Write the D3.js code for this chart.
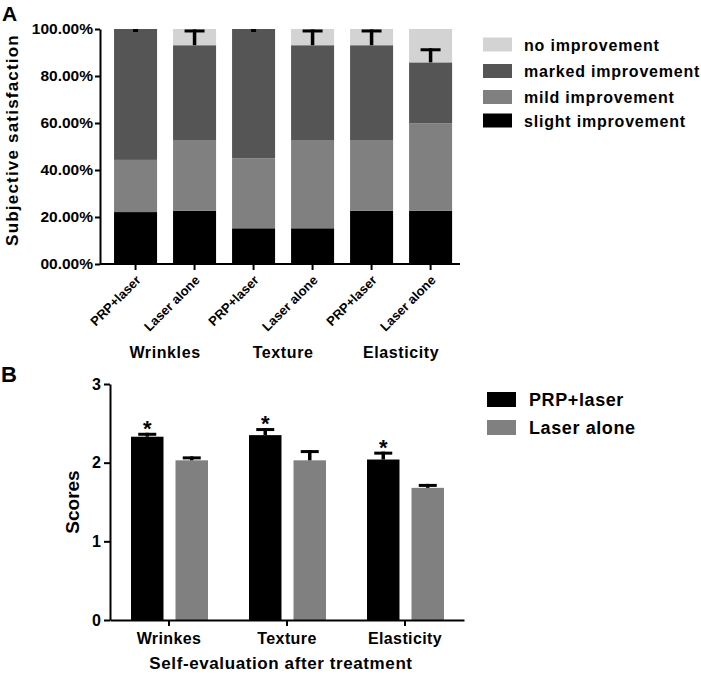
<!DOCTYPE html>
<html><head><meta charset="utf-8">
<script src="https://cdn.jsdelivr.net/npm/d3@7"></script>
<style>
body{margin:0;background:#fff;}
text{font-family:"Liberation Sans",Arial,sans-serif;font-weight:bold;fill:#000;}
</style></head>
<body><svg id="c" width="701" height="678"></svg>
<script>
// ---------- Panel A data ----------
const barsA = ['PRP+laser','Laser alone','PRP+laser','Laser alone','PRP+laser','Laser alone'];
const groupsA = ['Wrinkles','Texture','Elasticity'];
const slight = [22.1, 22.7, 15.2, 15.2, 22.7, 22.7];
const mild   = [22.2, 29.8, 29.8, 37.3, 29.8, 37.2];
const marked = [55.7, 40.6, 55.0, 40.6, 40.6, 25.9];
const noImpr = [0.0, 6.9, 0.0, 6.9, 6.9, 14.2];
const errA   = [0.0, 6.7, 0.0, 6.7, 6.7, 6.0];
const ticksA = [0, 20, 40, 60, 80, 100];
const tickLabelsA = ['00.00%','20.00%','40.00%','60.00%','80.00%','100.00%'];
const seriesKeysA = ['slight','mild','marked','none'];
const legendA = ['no improvement','marked improvement','mild improvement','slight improvement'];
const legendKeysA = ['none','marked','mild','slight'];

// ---------- Panel B data ----------
const groupsB = ['Wrinkes','Texture','Elasticity'];
const seriesB = ['PRP+laser','Laser alone'];
const prpScores = [2.33, 2.35, 2.04];
const prpErr    = [0.05, 0.09, 0.10];
const laserScores = [2.03, 2.03, 1.68];
const laserErr    = [0.05, 0.13, 0.05];
const sigB = [true, true, true];
const ticksB = [0, 1, 2, 3];

const colorA = {slight:'#000000', mild:'#808080', marked:'#555555', none:'#d3d3d3'};
const colorB = {'PRP+laser':'#000000','Laser alone':'#808080'};

const FF = '"Liberation Sans",Arial,sans-serif';
const svg = d3.select('#c');

// ===== Panel A =====
const gA = svg.append('g');
const yA = d3.scaleLinear().domain([0,100]).range([264,29]);
const xA = d3.scaleBand().domain(d3.range(barsA.length)).range([100,460])
  .paddingInner(0.271).paddingOuter(0.186).align(0.64);

const rowsA = barsA.map((b,i)=>({slight:slight[i], mild:mild[i], marked:marked[i], none:noImpr[i]}));
const stackA = d3.stack().keys(seriesKeysA)(rowsA);

gA.selectAll('g.layer').data(stackA).join('g').attr('class','layer')
  .attr('fill', d=>colorA[d.key])
  .selectAll('rect').data(d=>d.map((v,i)=>({v,i}))).join('rect')
  .attr('x', d=>xA(d.i)).attr('width', xA.bandwidth())
  .attr('y', d=>yA(d.v[1])).attr('height', d=>Math.max(0, yA(d.v[0])-yA(d.v[1])));

// error bars A (on top of marked segment)
barsA.forEach((b,i)=>{
  const cx = xA(i)+xA.bandwidth()/2;
  const base = slight[i]+mild[i]+marked[i];
  const top = base+errA[i];
  const cw = errA[i]>0 ? 20 : 5;
  if (errA[i]>0) gA.append('line').attr('x1',cx).attr('x2',cx).attr('y1',yA(base)).attr('y2',yA(top))
    .attr('stroke','#000').attr('stroke-width',3.5);
  gA.append('line').attr('x1',cx-cw/2).attr('x2',cx+cw/2).attr('y1',yA(top)+1.5).attr('y2',yA(top)+1.5)
    .attr('stroke','#000').attr('stroke-width',3);
});

// axes A
const yAxisA = d3.axisLeft(yA).tickValues(ticksA).tickFormat((d,i)=>tickLabelsA[i]).tickSize(5).tickPadding(2).tickSizeOuter(0);
const gyA = gA.append('g').attr('transform','translate(100,0)').call(yAxisA);
gyA.selectAll('text').style('font-size','15.5px').style('font-family',FF).style('font-weight','bold');
gyA.selectAll('path,line').attr('stroke','#000').attr('stroke-width',2);

const xAxisA = d3.axisBottom(xA).tickFormat(i=>barsA[i]).tickSize(6).tickSizeOuter(0);
const gxA = gA.append('g').attr('transform','translate(0,264)').call(xAxisA);
gxA.select('.domain').attr('d','M100,0H460');
gxA.selectAll('path,line').attr('stroke','#000').attr('stroke-width',2);
gxA.selectAll('text').style('font-size','13px').style('font-family',FF).style('font-weight','bold')
  .attr('text-anchor','end').attr('dy',null).attr('y',null)
  .attr('transform','translate(6,17) rotate(-45)');

// group labels A
groupsA.forEach((g,k)=>{
  const cx = (xA(2*k)+xA(2*k+1)+xA.bandwidth())/2;
  gA.append('text').attr('x',cx).attr('y',358).attr('text-anchor','middle')
    .style('font-size','16px').style('letter-spacing','0.6px').text(g);
});

gA.append('text').attr('transform','translate(18,140) rotate(-90)').attr('text-anchor','middle')
  .style('font-size','17px').style('letter-spacing','1.2px').text('Subjective satisfaction');
gA.append('text').attr('x',2).attr('y',21).style('font-size','21px').text('A');

// legend A
const legYA = [44.5, 71, 97, 120.5];
legendA.forEach((t,k)=>{
  gA.append('rect').attr('x',483).attr('y',legYA[k]-7).attr('width',29).attr('height',14).attr('fill',colorA[legendKeysA[k]]);
  gA.append('text').attr('x',524).attr('y',legYA[k]+6).style('font-size','16px').style('letter-spacing','0.8px').text(t);
});

// ===== Panel B =====
const gB = svg.append('g');
const yB = d3.scaleLinear().domain([0,3]).range([620,384]);
const xB = d3.scaleBand().domain(groupsB).range([110,464]).padding(0);
const xInner = d3.scaleBand().domain(seriesB).range([-38,39]).paddingInner(0.27).paddingOuter(0);

const dataB = [];
groupsB.forEach((g,i)=>{
  dataB.push({g, s:'PRP+laser', v:prpScores[i], e:prpErr[i], sig:sigB[i]});
  dataB.push({g, s:'Laser alone', v:laserScores[i], e:laserErr[i], sig:false});
});
const cxB = d=>xB(d.g)+xB.bandwidth()/2+xInner(d.s);
gB.selectAll('rect.bar').data(dataB).join('rect').attr('class','bar')
  .attr('x', cxB).attr('width', xInner.bandwidth())
  .attr('y', d=>yB(d.v)).attr('height', d=>yB(0)-yB(d.v))
  .attr('fill', d=>colorB[d.s]);
dataB.forEach(d=>{
  const cx = cxB(d)+xInner.bandwidth()/2;
  gB.append('line').attr('x1',cx).attr('x2',cx).attr('y1',yB(d.v)).attr('y2',yB(d.v+d.e))
    .attr('stroke','#000').attr('stroke-width',3.5);
  gB.append('line').attr('x1',cx-9).attr('x2',cx+9).attr('y1',yB(d.v+d.e)+1.5).attr('y2',yB(d.v+d.e)+1.5)
    .attr('stroke','#000').attr('stroke-width',3);
  if (d.sig) gB.append('text').attr('x',cx).attr('y',yB(d.v+d.e)+3).attr('text-anchor','middle')
    .style('font-size','22px').text('*');
});

const gyB = gB.append('g').attr('transform','translate(110,0)')
  .call(d3.axisLeft(yB).tickValues(ticksB).tickFormat(d3.format('d')).tickSize(6).tickPadding(3).tickSizeOuter(0));
gyB.selectAll('text').style('font-size','16px').style('font-family',FF).style('font-weight','bold');
gyB.selectAll('path,line').attr('stroke','#000').attr('stroke-width',2);

const gxB = gB.append('g').attr('transform','translate(0,620)')
  .call(d3.axisBottom(xB).tickSize(6).tickPadding(7).tickSizeOuter(0));
gxB.selectAll('text').style('font-size','16px').style('font-family',FF).style('font-weight','bold').style('letter-spacing','0.4px');
gxB.selectAll('path,line').attr('stroke','#000').attr('stroke-width',2);

gB.append('text').attr('x',281).attr('y',669).attr('text-anchor','middle').style('font-size','17px').style('letter-spacing','0.6px')
  .text('Self-evaluation after treatment');
gB.append('text').attr('transform','translate(79,502) rotate(-90)').attr('text-anchor','middle').style('font-size','19px').text('Scores');
gB.append('text').attr('x',1).attr('y',382).style('font-size','22px').text('B');

const legYB = [399.5, 427.5];
seriesB.forEach((s,k)=>{
  gB.append('rect').attr('x',487).attr('y',legYB[k]-7.5).attr('width',29).attr('height',15).attr('fill',colorB[s]);
  gB.append('text').attr('x',529).attr('y',legYB[k]+6.5).style('font-size','18px').style('letter-spacing','0.6px').text(s);
});
</script></body></html>
